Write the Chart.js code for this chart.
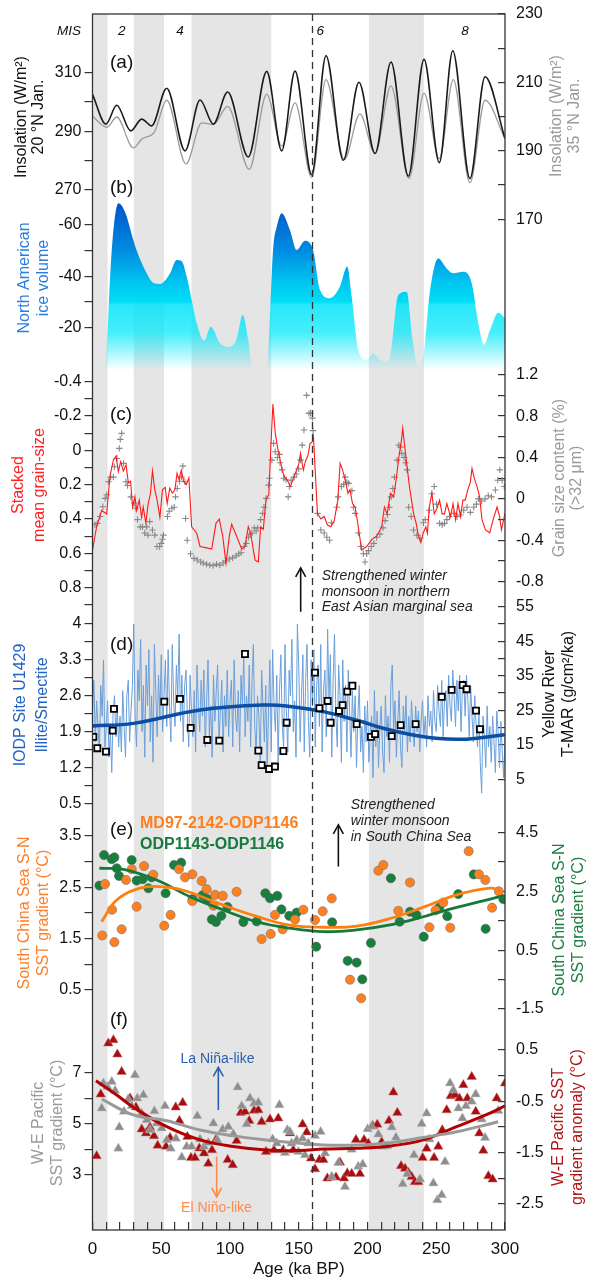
<!DOCTYPE html>
<html><head><meta charset="utf-8">
<script src="https://cdn.jsdelivr.net/npm/chart.js@4.4.1/dist/chart.umd.min.js"></script>
<style>html,body{margin:0;padding:0;background:#fff}canvas{display:block}</style>
</head><body>
<canvas id="c" width="591" height="1280"></canvas>
<script>
// ---------------- DATA (ages in ka BP) ----------------
const interglacials = [[0,11],[30,52],[72,130],[201,241]];
const dashedAge = 160;
const xTicks = [0,10,20,30,40,50,60,70,80,90,100,110,120,130,140,150,160,170,180,190,200,210,220,230,240,250,260,270,280,290,300];
const xMajor = [0,50,100,150,200,250,300];

// (a) insolation
const insol20N = [[0,302.5],[9.8,292.4],[17.6,298.8],[27.8,290.1],[35.8,294.1],[43,291.8],[54,304.6],[67.3,283.3],[78.2,300.6],[87.9,292.4],[98.3,303.3],[113.3,281.2],[126.7,310.3],[137.6,283.3],[147.3,310.4],[159.4,275.2],[169.8,315.6],[182.4,280.1],[193.8,306.6],[205.5,282.4],[217.1,313.5],[229.7,274.7],[241.1,314.4],[252.2,279.3],[262,317.3],[274.5,273.9],[285.5,308.5],[300,287.5]];
const insol35N = [[0,200.1],[10.5,196.9],[17.6,199.9],[29.7,190.9],[36,193.5],[45,195.5],[54,204.8],[68,186.2],[79.4,198.2],[87.9,197.7],[98.3,203.0],[114,184.6],[126.7,206.6],[137.6,191.4],[147.3,204.0],[159.4,182.2],[169.8,210.8],[183.2,187.5],[194.5,200.8],[205.5,189.2],[217.1,209.0],[230.2,181.9],[241.1,206.9],[252.2,187.7],[262.4,210.8],[274.5,180.7],[285.5,204.8],[300,193.5]];

// (b) North American ice volume
const iceBase = -3.5;
const iceVolume = [[9,-3.5],[10.3,-10],[12.7,-38.6],[15.2,-58],[18.8,-68.5],[23.6,-65.2],[29.7,-54.2],[32,-50.3],[39.4,-41.2],[44,-37.5],[49,-37],[51.5,-37.7],[56.4,-41.2],[61.2,-46.4],[64.9,-45.9],[68.5,-39.9],[72.1,-30.8],[75.8,-21.7],[81.1,-14.9],[86,-20.4],[92.7,-13.9],[98,-12.5],[102.4,-13.3],[105.3,-16.5],[109.2,-25],[113.3,-15.2],[116.5,-3.5],[126.7,-3.5],[131.5,-51.5],[134,-59.3],[137.6,-64.6],[143.6,-58],[148.5,-50.3],[154.5,-53.9],[158.2,-52.9],[160.6,-50],[165.5,-34.7],[172.7,-31.5],[180,-36],[185.3,-43.8],[188.5,-32.1],[193.3,-11.3],[199.4,-7.4],[204.2,-10],[209,-7.5],[214,-6.4],[216.8,-10],[222.4,-32.7],[228.5,-34],[232.8,-15.2],[237,-4.6],[240.6,-8.7],[245.5,-34.7],[251.5,-47],[257.6,-43.1],[262.4,-41.2],[269.7,-41.8],[275.8,-37.3],[280.6,-21.7],[284.7,-13.3],[289.1,-19.1],[295.1,-25.8],[300,-23.6]];

// (c) stacked mean grain-size (left, reversed) and grain size content >32 um (right)
const grainMean = [[0,0.58],[3,0.445],[6.7,0.35],[10.3,0.37],[12.7,0.15],[15.2,0.056],[17.1,0.033],[18.8,0.124],[20.5,0.066],[22.4,0.12],[24.4,0.085],[26.1,0.19],[27.7,0.18],[29.2,0.33],[30.9,0.27],[32.1,0.35],[34,0.29],[35.7,0.39],[36.9,0.33],[38.8,0.425],[40.5,0.31],[42.2,0.25],[43.6,0.12],[45.3,0.23],[47,0.29],[49,0.39],[50.9,0.23],[52.9,0.215],[54.3,0.31],[56.2,0.22],[58.2,0.25],[59.9,0.23],[61.5,0.134],[62.9,0.17],[64.6,0.116],[66.3,0.18],[68.2,0.2],[70.1,0.16],[72.1,0.445],[75.8,0.483],[78.2,0.56],[83.1,0.568],[86.7,0.575],[89.8,0.425],[92.2,0.4],[94.7,0.5],[97.1,0.658],[99.5,0.5],[101.2,0.43],[104.8,0.5],[108.5,0.575],[110.9,0.56],[113.3,0.445],[115,0.483],[118.2,0.639],[120.6,0.65],[122.3,0.445],[124.2,0.46],[126.3,0.28],[128.2,0.26],[129.7,-0.02],[131.2,-0.27],[132.9,-0.1],[134.5,-0.02],[136,0.04],[138,0.115],[139.6,0.153],[141.6,0.173],[144,0.21],[146.5,0.153],[148.4,0.115],[150.1,0.076],[151.3,0.018],[153.3,0.115],[155,0.06],[156.7,0.03],[158.2,-0.04],[159.9,-0.05],[160.7,-0.08],[161.7,0.076],[163.6,0.367],[166.1,0.4],[168.5,0.385],[170.9,0.435],[173.3,0.445],[175.8,0.41],[178.4,0.29],[180.1,0.076],[181.9,0.115],[183.8,0.173],[185.8,0.25],[187.3,0.23],[189.1,0.31],[191,0.33],[193.3,0.445],[195.7,0.58],[199.4,0.56],[203,0.52],[206.7,0.5],[210.3,0.445],[212.3,0.33],[214.3,0.37],[216.7,0.25],[219,0.27],[220.8,0.173],[222.7,0.046],[224.7,-0.06],[225.6,-0.128],[227.1,-0.02],[228.8,0.096],[230.5,0.21],[232,0.29],[233.5,0.367],[235.4,0.425],[237.1,0.5],[238.8,0.538],[240.5,0.483],[242.4,0.445],[243.6,0.483],[244.9,0.33],[246.8,0.25],[248.5,0.37],[250.4,0.34],[252.4,0.29],[254.3,0.37],[256,0.37],[257.7,0.31],[260.4,0.386],[262.2,0.31],[264.1,0.405],[265.8,0.31],[267.7,0.386],[269.4,0.29],[271.1,0.29],[272.9,0.23],[274.8,0.185],[276,0.105],[277.7,0.163],[279.6,0.21],[281.5,0.27],[283.3,0.405],[285.8,0.463],[288.9,0.48],[291.3,0.405],[294.2,0.33],[296.1,0.386],[297.4,0.463],[300,0.367]];
const coarseContent = [[1.8,-0.25],[3.5,-0.236],[5.5,-0.17],[7.5,-0.076],[9.2,0.005],[10.3,0.04],[11.5,0.166],[13.2,0.21],[15.2,0.21],[15.9,0.31],[17.8,0.39],[19.5,0.488],[20.2,0.575],[21.2,0.633],[22.6,0.343],[24.3,0.166],[25.5,0.13],[27.9,0.02],[30.3,-0.04],[31.5,-0.09],[32.7,-0.2],[34.7,-0.27],[36.4,-0.27],[38,-0.33],[39.4,-0.27],[40.4,-0.35],[41.6,-0.22],[43.6,-0.3],[45.3,-0.35],[46.9,-0.46],[48.8,-0.46],[50,-0.43],[50.9,-0.39],[51.6,-0.35],[54.5,-0.17],[55.7,-0.12],[57.7,-0.09],[59.4,-0.08],[60.4,0.02],[61.6,0.1],[63.3,0.17],[64.7,0.21],[65.7,0.317],[67.2,0.166],[67.7,-0.19],[68.9,-0.4],[71.3,-0.53],[73.8,-0.575],[76.2,-0.59],[78.7,-0.61],[80.5,-0.62],[82.9,-0.63],[85.3,-0.64],[87.7,-0.645],[90.2,-0.63],[92.6,-0.64],[95,-0.62],[96.7,-0.6],[99.5,-0.58],[101.9,-0.57],[104.4,-0.55],[106.4,-0.53],[108.1,-0.52],[110.3,-0.46],[111.8,-0.43],[113.5,-0.37],[114.7,-0.34],[116,-0.33],[117.7,-0.28],[119,-0.31],[120.2,-0.28],[122.3,-0.2],[123.8,-0.14],[124.7,-0.08],[126.3,0.005],[128,0.133],[128.7,0.2],[130.5,0.375],[131.7,0.536],[132.9,0.455],[134.5,0.4],[136,0.43],[136.4,0.35],[137.9,0.28],[139.1,0.2],[140.8,0.185],[142.3,0.02],[143.2,0.12],[144.4,0.18],[146.7,0.21],[148.2,0.24],[149.9,0.29],[151.3,0.375],[152.5,0.52],[153.8,0.665],[155.7,1.0],[157.4,0.826],[158.6,0.83],[159.9,0.78],[160.4,0.66],[163.6,-0.14],[166.1,-0.3],[168.5,-0.33],[170.4,-0.37],[172.4,-0.4],[173.8,-0.23],[177.7,-0.08],[178.7,0.02],[181,0.12],[182.6,0.14],[183.8,0.21],[185,0.16],[186.3,0.15],[188.7,0.08],[189.8,-0.08],[191,-0.14],[193.3,-0.33],[195.2,-0.46],[197,-0.53],[198.2,-0.61],[199.4,-0.53],[200.7,-0.5],[202.7,-0.46],[204.6,-0.43],[206.7,-0.37],[209.1,-0.34],[211.3,-0.28],[212.8,-0.21],[214.5,-0.15],[216,-0.08],[217.2,0.02],[218.4,0.1],[219.6,0.21],[221.6,0.375],[222.8,0.52],[224,0.5],[224.9,0.44],[226.6,0.4],[227.6,0.35],[228.8,0.28],[229.9,-0.08],[231.8,-0.17],[233.5,-0.3],[235.9,-0.35],[238.3,-0.38],[240.7,-0.23],[242,-0.2],[244.9,-0.11],[246.8,0.05],[248.5,0.12],[250.2,-0.05],[252.4,-0.236],[254.3,-0.25],[256,-0.236],[257.7,-0.2],[259.6,-0.17],[262.8,-0.14],[265.2,-0.17],[267.6,-0.155],[270,-0.11],[272.4,-0.08],[274.8,-0.13],[277.3,-0.08],[279.2,-0.05],[280.6,0.0],[283,-0.02],[285.5,0.0],[287.8,0.03],[290.2,0.02],[293,0.086],[294.7,0.18],[296.2,0.28],[297.9,0.18],[299.5,0.12]];

// (d) IODP U1429 illite/smectite, 1-ka sampling from 0 ka
const illiteStep = 1;
const illiteRatio = [
2.3,2.9,1.7,2.5,2.0,1.5,2.8,2.2,3.3,1.6,
2.0,2.5,1.4,1.9,1.1,2.3,2.6,1.8,2.4,1.6,
2.2,1.5,2.7,2.0,1.4,2.6,2.9,1.7,2.3,2.8,
4.0,2.2,1.6,3.1,2.5,3.7,1.9,2.8,1.4,3.2,
2.4,3.5,1.7,2.6,1.3,3.6,2.7,1.8,3.0,2.2,
3.4,1.9,2.6,3.3,2.0,3.5,2.4,1.7,3.6,2.5,
2.0,3.2,2.6,3.8,2.1,3.0,1.7,2.8,3.1,2.2,
1.6,3.0,2.3,1.8,2.7,1.5,3.2,2.4,1.9,2.9,
2.2,3.1,1.6,2.5,3.3,1.8,2.4,1.4,3.0,2.1,
2.7,3.2,1.7,2.3,2.9,1.5,2.6,2.0,3.1,1.8,
2.5,2.9,1.6,3.3,2.2,1.9,2.7,1.5,3.0,2.4,
3.4,1.8,2.6,2.1,3.2,1.6,2.9,3.6,2.0,1.5,
2.6,2.2,1.3,3.1,2.4,1.7,2.8,1.2,2.3,3.3,
1.5,3.5,2.4,1.9,3.0,1.3,2.7,3.4,2.0,1.6,
3.6,2.3,1.5,3.1,2.6,3.7,1.9,2.5,1.4,4.0,
3.2,1.7,2.6,3.4,1.5,2.9,3.6,2.1,1.4,3.3,
2.4,3.5,1.6,2.8,3.2,2.0,3.6,1.5,2.7,3.1,
1.8,3.9,2.5,3.4,1.4,2.9,3.8,2.2,1.6,3.2,
2.6,1.3,3.3,2.1,2.8,1.5,3.1,2.3,1.4,2.7,
1.9,2.6,1.2,2.2,2.8,1.5,2.0,1.1,2.4,1.7,
2.5,1.3,1.9,2.2,1.0,2.7,1.6,2.3,1.2,2.0,
2.4,1.5,1.1,2.6,1.8,2.2,1.3,2.8,3.2,1.9,
2.5,1.4,2.1,2.7,1.6,1.2,2.4,1.9,2.6,1.5,
2.2,1.7,2.5,2.0,1.6,2.4,1.9,2.3,1.5,2.1,
2.5,1.8,2.2,1.6,2.6,2.0,2.3,1.7,2.7,2.1,
1.9,2.8,2.3,2.0,2.9,1.8,2.5,2.7,2.0,3.0,
2.4,2.1,3.1,2.6,2.0,2.9,2.3,3.0,1.9,2.7,
2.9,2.2,3.0,2.5,1.8,2.8,2.2,1.7,2.6,2.0,
1.6,2.3,1.3,0.7,2.2,1.8,1.2,2.4,1.6,2.0,
1.3,2.2,1.7,1.1,2.3,1.9,1.2,2.1,1.5,1.0,1.8];
const illiteTrend = [[0,2.01],[29.8,2.06],[78.2,2.32],[126.7,2.42],[143.6,2.39],[167.9,2.29],[192.1,2.12],[216.4,1.93],[240.6,1.8],[264.8,1.75],[279.3,1.77],[300,1.84]];
const yellowRiverTMAR = [[0.6,17.3],[3.5,14],[9.8,13],[14.7,19.1],[15.6,25.4],[52.2,27.5],[63.6,28.3],[71.4,19.9],[83.5,16.4],[92.2,16.2],[110.9,41.3],[120.6,13.3],[123,9.1],[128.4,8],[132.7,8.7],[138.8,13.2],[141.2,21.4],[161.8,35.9],[165,25.6],[171,27.7],[173.2,21.4],[179.3,24.8],[181.9,26.5],[185.3,30.4],[189,32.1],[192.1,21],[202.5,17.3],[205.5,18.1],[217.6,17.5],[224.1,20.7],[235,21],[254,28.9],[261.2,30.9],[269.2,32.3],[272.1,31.1],[278.9,24.9],[281.8,19.5]];

// (e) South China Sea S-N SST gradient
const scsMD97 = [[7.1,1.56],[9.1,2.56],[14.2,2.06],[15.9,1.43],[21.2,1.68],[24.4,2.64],[28.5,2.85],[32.1,2.12],[37.5,2.91],[44.2,2.74],[52.2,1.75],[56.8,1.96],[62.9,2.85],[67.3,2.69],[72.6,2.75],[72.6,2.23],[79.4,2.62],[83,2.46],[87.9,2.14],[89.1,2.35],[94.7,2.33],[104.8,2.41],[123,1.49],[129.6,1.59],[132.7,1.96],[138.3,1.68],[147.3,1.87],[153.3,2.06],[161.8,1.86],[167.4,2.03],[174,2.28],[187.3,0.70],[195.4,0.34],[207.9,2.82],[211.5,2.93],[222.4,2.04],[230.9,2.59],[245,1.72],[249.5,2.05],[255.1,2.2],[260.2,1.71],[273.6,3.2],[281,2.75],[285.7,2.64],[290.6,2.1],[295.5,2.42]];
const scsMD97Fit = [[6.7,1.83],[17.6,2.25],[34.5,2.48],[49.1,2.51],[66,2.44],[95.1,2.15],[119.4,1.93],[143.6,1.76],[167.9,1.72],[192.1,1.74],[216.4,1.89],[240.6,2.11],[264.8,2.35],[289.1,2.48],[296.4,2.44]];
const scsODP1143 = [[5,2.70],[8.4,3.74],[14,3.6],[15.9,3.66],[17.6,3.29],[19.3,3.03],[28.5,3.57],[32.1,2.87],[36.5,2.92],[40.6,2.61],[43,2.98],[53.2,2.44],[59.3,3.4],[64.5,3.48],[72.8,2.24],[80,2.37],[83.5,2.24],[86.8,1.55],[89.8,1.46],[93.7,1.67],[98.2,1.97],[109.7,1.46],[119.4,1.48],[125.7,2.44],[129.1,2.27],[134.4,2.35],[137.4,1.89],[143.1,1.67],[148.5,1.78],[162.7,0.62],[174.3,1.45],[185.6,0.14],[192.1,0.08],[196.2,-0.49],[202.5,0.75],[217,2.95],[223.4,1.47],[230.9,1.81],[235.6,1.7],[240.9,0.96],[252.2,1.95],[258,1.66],[266,2.41],[277.3,3.08],[285.9,1.23],[298.8,2.24]];
const scsODP1143Fit = [[5,3.29],[22.4,3.25],[46.7,2.89],[70.9,2.32],[95.1,1.87],[119.4,1.47],[143.6,1.25],[167.9,1.13],[192.1,1.19],[216.4,1.36],[240.6,1.64],[264.8,1.96],[298.8,2.35]];

// (f) W-E Pacific SST gradient (left) and anomaly (right)
const wepGradient = [[6.7,5.61],[7.9,6.59],[10.8,6.45],[14,6.65],[16.4,6.3],[18.8,4.04],[19.5,4.87],[22.9,5.48],[26,5.96],[28.5,5.7],[30.9,6.91],[32.6,6.0],[35.8,5.41],[37,6.13],[39.4,5.15],[41.8,4.76],[45,5.5],[46.7,5.02],[50.3,4.83],[52.7,5.7],[54,4.37],[56.9,4.04],[60.7,4.43],[64.9,3.69],[68.5,4.11],[72.1,4.11],[76.2,5.31],[78.2,4.4],[81.1,4.11],[84.2,4.26],[87.9,5.02],[90.8,4.37],[94.7,4.79],[98.8,4.89],[102.4,4.6],[105.6,6.43],[108.5,5.7],[112.1,4.99],[114.5,6.0],[117.5,5.8],[120.6,5.83],[131,4.4],[134,4.24],[135.9,5.74],[140,3.87],[141.7,4.76],[143.6,4.69],[144.8,4.24],[148.5,4.37],[149.7,3.91],[152.8,4.43],[154.5,3.78],[157,4.24],[161.8,4.53],[165.9,4.69],[169.1,3.85],[174,2.93],[178.8,3.48],[183.6,2.54],[188.5,4.0],[193.3,3.33],[196.5,3.42],[200.1,4.8],[203,4.9],[207.9,4.59],[211.5,4.11],[214.4,4.13],[217.6,4.87],[220.7,4.47],[225.6,2.65],[229,3.04],[233.8,3.78],[238.2,2.83],[239.4,5.0],[243,5.41],[245,4.4],[247.9,2.68],[250.8,2.02],[254,2.22],[256.4,3.52],[260,6.59],[262.4,6.32],[266.1,5.61],[269,5.22],[271.6,5.7],[275.8,5.87],[278.7,6.16],[283,5.18],[285.5,4.46],[295.1,5.51]];
const wepGradientFit = [[6.7,5.97],[29.7,5.35],[54,5.12],[78.2,4.76],[102.4,4.53],[126.7,4.37],[150.9,4.24],[167.9,4.17],[192.1,4.17],[216.4,4.26],[240.6,4.47],[264.8,4.69],[295.1,5.08]];
const wepAnomaly = [[3,-1.565],[6,-0.363],[11.5,0.63],[15.2,0.695],[18.1,0.416],[21.2,0.077],[27.3,-0.44],[31.6,-0.616],[35.8,-1.045],[38.9,-1.12],[41.8,-1.006],[44.7,-1.175],[47.4,-1.36],[53.5,-1.38],[56.4,-1.21],[60.5,-0.616],[63.2,-0.877],[65.6,-0.527],[69,-1.19],[71.6,-1.6],[74.5,-1.6],[77.7,-1.415],[81.1,-1.51],[84.2,-1.71],[86.9,-1.45],[89.8,-1.25],[98.3,-1.64],[102,-1.74],[104.8,-1.27],[107.8,-0.72],[110.9,-0.70],[114,-0.877],[117.5,-0.68],[120.6,-0.67],[123,-0.9],[126.2,-1.48],[129.1,-0.85],[132,-1.45],[135.1,-0.83],[138.8,-1.45],[143.6,-1.12],[146,-1.45],[152.8,-0.948],[155.8,-1.10],[158.9,-1.61],[161.8,-1.82],[165,-1.64],[167.9,-1.64],[170.8,-2.0],[174,-1.98],[177.1,-1.98],[180,-1.69],[182.9,-2.0],[185.3,-1.9],[188.5,-1.91],[191.6,-1.25],[194.5,-1.91],[197.5,-1.25],[200.6,-1.32],[203.8,-0.98],[207.1,-0.95],[210.3,-1.29],[215.6,-0.877],[218.8,-0.325],[221.7,-0.72],[224.4,-1.76],[227.3,-1.81],[229.7,-1.89],[232.1,-1.97],[234.5,-2.07],[237,-2.07],[240.1,-1.6],[243,-1.42],[248.4,-1.6],[251.5,-1.38],[254.4,-1.06],[257.6,-0.67],[260.5,-0.396],[263.6,-0.37],[266.8,-0.44],[269.7,-0.18],[272.6,-0.44],[275.8,-0.02],[278.7,-0.70],[281.3,-1.12],[284.2,-1.46],[287.9,-1.955],[291,-2.02],[294,-0.44],[300,-0.15]];
const wepAnomalyFit = [[2.5,-0.1],[17.6,-0.377],[29.7,-0.616],[54,-0.994],[78.2,-1.25],[102.4,-1.38],[126.7,-1.45],[150.9,-1.46],[167.9,-1.43],[192.1,-1.415],[216.4,-1.37],[240.6,-1.25],[264.8,-0.994],[289.1,-0.73],[300,-0.59]];

// ---------------- AXES (value/pixel calibration, tick lists) ----------------
const FONT = '"Liberation Sans", Arial, Helvetica, sans-serif';
const AREA_TOP = 14, AREA_BOTTOM = 1230;
const axisDefs = {
  yAL: {pos:'left',  cal:[310,72.3,270,190],   ticks:[270,280,290,300,310], major:[270,290,310]},
  yAR: {pos:'right', cal:[230,14,170,219.3],   ticks:[170,180,190,200,210,220,230], major:[170,190,210,230]},
  yBL: {pos:'left',  cal:[-60,225,-20,327.7],  ticks:[-60,-50,-40,-30,-20], major:[-60,-40,-20]},
  yCL: {pos:'left',  cal:[-0.4,381.7,0.8,587.7], ticks:[-0.4,-0.3,-0.2,-0.1,0,0.1,0.2,0.3,0.4,0.5,0.6,0.7,0.8,0.9], major:[-0.4,-0.2,0,0.2,0.4,0.6,0.8]},
  yCR: {pos:'right', cal:[1.2,374.7,-0.8,581.7], ticks:[-0.8,-0.6,-0.4,-0.2,0,0.2,0.4,0.6,0.8,1.0,1.2], major:[-0.8,-0.4,0,0.4,0.8,1.2]},
  yDL: {pos:'left',  cal:[4,624,0.5,803.3],    ticks:[0.5,0.85,1.2,1.55,1.9,2.25,2.6,2.95,3.3,3.65,4], major:[0.5,1.2,1.9,2.6,3.3,4]},
  yDR: {pos:'right', cal:[55,606.7,5,779.3],   ticks:[5,10,15,20,25,30,35,40,45,50,55], major:[5,15,25,35,45,55]},
  yEL: {pos:'left',  cal:[3.5,835.7,0.5,990],  ticks:[0.5,1,1.5,2,2.5,3,3.5], major:[0.5,1.5,2.5,3.5]},
  yER: {pos:'right', cal:[4.5,832.7,-1.5,1009], ticks:[-1.5,-0.5,0.5,1.5,2.5,3.5,4.5], major:[-1.5,0.5,2.5,4.5]},
  yFL: {pos:'left',  cal:[7,1072.7,3,1175],    ticks:[3,4,5,6,7], major:[3,5,7]},
  yFR: {pos:'right', cal:[0.5,1050,-2.5,1204], ticks:[-2.5,-2,-1.5,-1,-0.5,0,0.5], major:[-2.5,-1.5,-0.5,0.5]}
};
function scaleRange(v1, p1, v2, p2) {
  const upp = (v2 - v1) / (p2 - p1);
  const vTop = v1 + (AREA_TOP - p1) * upp;
  const vBot = v1 + (AREA_BOTTOM - p1) * upp;
  return vTop > vBot ? {min: vBot, max: vTop, reverse: false} : {min: vTop, max: vBot, reverse: true};
}
function zeroPadding(s) { s.paddingTop = 0; s.paddingBottom = 0; s.paddingLeft = 0; s.paddingRight = 0; }
function yAxis(def) {
  const r = scaleRange(...def.cal);
  const left = def.pos === 'left';
  return {
    type: 'linear', position: def.pos, min: r.min, max: r.max, reverse: r.reverse, bounds: 'data',
    afterBuildTicks: s => { s.ticks = def.ticks.map(v => ({value: v})); },
    afterFit: s => { s.width = 0; zeroPadding(s); },
    ticks: {autoSkip: false, padding: left ? 3 : 18, color: '#111', font: {size: 16, family: FONT},
      callback: v => def.major.includes(v) ? String(v) : ''},
    grid: {display: true, drawOnChartArea: false, drawTicks: true, tickLength: left ? 8 : -7, color: '#333', lineWidth: 1.2},
    border: {display: false},
    title: {display: false}
  };
}
const scales = {
  x: {type: 'linear', position: 'bottom', min: 0, max: 300,
    afterBuildTicks: s => { s.ticks = xTicks.map(v => ({value: v})); },
    afterFit: s => { s.height = 50; zeroPadding(s); },
    ticks: {autoSkip: false, maxRotation: 0, padding: 17, color: '#111', font: {size: 17, family: FONT},
      callback: v => xMajor.includes(v) ? String(v) : ''},
    grid: {display: true, drawOnChartArea: false, drawTicks: true, tickLength: -8, color: '#333', lineWidth: 1.2},
    border: {display: false},
    title: {display: true, text: 'Age (ka BP)', color: '#111', font: {size: 17, family: FONT}, padding: {top: 0, bottom: 0}}
  }
};
Object.keys(axisDefs).forEach(k => { scales[k] = yAxis(axisDefs[k]); });

// ---------------- STYLE HELPERS ----------------
const iceFillStops = [[-70,'rgba(0,80,200,1)'],[-50,'rgba(0,140,225,1)'],[-38,'rgba(0,195,240,1)'],[-30,'rgba(0,222,246,1)'],[-29,'rgba(0,228,248,0.85)'],[-18,'rgba(0,232,250,0.72)'],[-3.5,'rgba(0,232,250,0)']];
function iceFill(context) {
  const chart = context.chart;
  const s = chart.scales && chart.scales.yBL;
  if (!s || !chart.chartArea) return 'rgba(0,200,240,0.7)';
  const p0 = s.getPixelForValue(iceFillStops[0][0]);
  const p1 = s.getPixelForValue(iceFillStops[iceFillStops.length - 1][0]);
  const g = chart.ctx.createLinearGradient(0, p0, 0, p1);
  iceFillStops.forEach(([v, c]) => g.addColorStop(Math.min(1, Math.max(0, (s.getPixelForValue(v) - p0) / (p1 - p0))), c));
  return g;
}
const pts = arr => arr.map(([x, y]) => ({x, y}));
const line = (data, axis, color, width, extra) => Object.assign({data: pts(data), yAxisID: axis, borderColor: color, borderWidth: width, pointRadius: 0, fill: false}, extra || {});
const dots = (data, axis, style, r, bg, bc, bw, extra) => Object.assign({data: pts(data), yAxisID: axis, showLine: false, pointStyle: style, pointRadius: r, backgroundColor: bg, borderColor: bc, borderWidth: bw}, extra || {});

const datasets = [
  line(insol35N, 'yAR', '#9b9b9b', 1.3, {cubicInterpolationMode: 'monotone', order: 4}),
  line(insol20N, 'yAL', '#1a1a1a', 1.6, {cubicInterpolationMode: 'monotone', order: 3}),
  line(iceVolume, 'yBL', 'rgba(0,0,0,0)', 0, {fill: {value: iceBase}, backgroundColor: iceFill, cubicInterpolationMode: 'monotone', order: 10}),
  dots(coarseContent, 'yCR', 'cross', 3.2, '#888', '#888', 1.1, {order: 6}),
  line(grainMean, 'yCL', '#ff1a1a', 1.1, {order: 5}),
  line(illiteRatio.map((v, i) => [i * illiteStep, v]), 'yDL', '#6a9fdb', 1, {order: 8}),
  line(illiteTrend, 'yDL', '#0b4ea2', 3.5, {tension: 0.4, order: 7}),
  dots(yellowRiverTMAR, 'yDR', 'rect', 4.3, '#fff', '#000', 1.8, {order: 1}),
  dots(scsMD97, 'yEL', 'circle', 4.6, '#ff8020', 'rgba(110,110,110,0.7)', 0.8, {order: 4}),
  dots(scsODP1143, 'yER', 'circle', 4.6, '#17803f', 'rgba(90,90,90,0.7)', 0.8, {order: 4}),
  line(scsMD97Fit, 'yEL', '#ff7f0e', 2.8, {tension: 0.4, order: 2}),
  line(scsODP1143Fit, 'yER', '#137a3a', 2.8, {tension: 0.4, order: 2}),
  dots(wepGradient, 'yFL', 'triangle', 5.5, '#8e8e8e', 'rgba(200,200,200,0.8)', 0.6, {order: 4}),
  dots(wepAnomaly, 'yFR', 'triangle', 5.5, '#a80d10', 'rgba(200,120,120,0.8)', 0.6, {order: 4}),
  line(wepGradientFit, 'yFL', '#9a9a9a', 3, {tension: 0.4, order: 2}),
  line(wepAnomalyFit, 'yFR', '#b30000', 3, {tension: 0.4, order: 2})
];

// ---------------- ANNOTATIONS ----------------
const arrows = [
  {axis: 'yCL', age: 151.4, from: 0.94, to: 0.685, color: '#111'},
  {axis: 'yEL', age: 178.8, from: 2.9, to: 3.71, color: '#111'},
  {axis: 'yFL', age: 91.5, from: 5.54, to: 7.21, color: '#2a5fb0'},
  {axis: 'yFL', age: 90.3, from: 3.72, to: 2.15, color: '#ff8a4a'}
];
const axisTitles = [
  {lines: ['Insolation (W/m²)', '20 °N Jan.'], xs: [21.7, 38.3], y: 117, c: '#111'},
  {lines: ['Insolation (W/m²)', '35 °N Jan.'], xs: [556.7, 575], y: 116, c: '#9a9a9a'},
  {lines: ['North American', 'ice volume'], xs: [25, 43.3], y: 278, c: '#2b7de0'},
  {lines: ['Stacked', 'mean grain-size'], xs: [18.3, 39.3], y: 485, c: '#ff2222'},
  {lines: ['Grain size content (%)', '(>32 μm)'], xs: [560, 576.7], y: 478, c: '#9a9a9a'},
  {lines: ['IODP Site U1429', 'Illite/Smectite'], xs: [21, 43], y: 705, c: '#2263c2'},
  {lines: ['Yellow River', 'T-MAR (g/cm²/ka)'], xs: [550, 568.3], y: 694, c: '#111'},
  {lines: ['South China Sea S-N', 'SST gradient (°C)'], xs: [25, 44], y: 913, c: '#ff7f27'},
  {lines: ['South China Sea S-N', 'SST gradient (°C)'], xs: [559.3, 578.3], y: 920, c: '#1b7d40'},
  {lines: ['W-E Pacific', 'SST gradient (°C)'], xs: [39, 58], y: 1123, c: '#9a9a9a'},
  {lines: ['W-E Pacific SST', 'gradient anomaly (°C)'], xs: [559, 578], y: 1127, c: '#b01515'}
];
const labels = [
  {t: 'MIS', x: 69, y: 31, f: 'italic 13.5px', c: '#111', a: 'center'},
  {t: '2', x: 121.7, y: 31, f: 'italic 13.5px', c: '#111', a: 'center'},
  {t: '4', x: 180, y: 31, f: 'italic 13.5px', c: '#111', a: 'center'},
  {t: '6', x: 320.3, y: 31, f: 'italic 13.5px', c: '#111', a: 'center'},
  {t: '8', x: 465, y: 31, f: 'italic 13.5px', c: '#111', a: 'center'},
  {t: '(a)', x: 110, y: 63, f: '19px', c: '#111', a: 'left'},
  {t: '(b)', x: 110, y: 188, f: '19px', c: '#111', a: 'left'},
  {t: '(c)', x: 110, y: 415, f: '19px', c: '#111', a: 'left'},
  {t: '(d)', x: 110, y: 645, f: '19px', c: '#111', a: 'left'},
  {t: '(e)', x: 110, y: 830, f: '19px', c: '#111', a: 'left'},
  {t: '(f)', x: 110, y: 1020, f: '19px', c: '#111', a: 'left'},
  {t: 'Strengthened winter', x: 321.7, y: 575.7, f: 'italic 14px', c: '#222', a: 'left'},
  {t: 'monsoon in northern', x: 321.7, y: 591.7, f: 'italic 14px', c: '#222', a: 'left'},
  {t: 'East Asian marginal sea', x: 321.7, y: 607.3, f: 'italic 14px', c: '#222', a: 'left'},
  {t: 'Strengthened', x: 350.7, y: 805, f: 'italic 14px', c: '#222', a: 'left'},
  {t: 'winter monsoon', x: 350.7, y: 821, f: 'italic 14px', c: '#222', a: 'left'},
  {t: 'in South China Sea', x: 350.7, y: 837.3, f: 'italic 14px', c: '#222', a: 'left'},
  {t: 'MD97-2142-ODP1146', x: 140, y: 823.3, f: 'bold 16px', c: '#ff7f1e', a: 'left'},
  {t: 'ODP1143-ODP1146', x: 140, y: 845, f: 'bold 16px', c: '#177a3c', a: 'left'},
  {t: 'La Niña-like', x: 217.5, y: 1059.3, f: '14px', c: '#2a5fb0', a: 'center'},
  {t: 'El Niño-like', x: 216.5, y: 1207.7, f: '14px', c: '#ff8a4a', a: 'center'}
];

const decor = {
  id: 'decor',
  afterLayout(chart) {
    // zero-width y axes are stacked on the frame; widen their clip boxes so tick labels show
    Object.values(chart.scales).forEach(s => {
      if (s.axis !== 'y') return;
      if (s.options.position === 'left') { s.left = 0; s.width = s.right; }
      else { s.right = chart.width; s.width = s.right - s.left; }
    });
  },
  beforeDraw(chart) {
    const {ctx, chartArea: a} = chart; const x = chart.scales.x;
    ctx.save(); ctx.fillStyle = '#e5e5e5';
    interglacials.forEach(([s, e]) => {
      const x0 = x.getPixelForValue(s), x1 = x.getPixelForValue(e);
      ctx.fillRect(x0, a.top, x1 - x0, a.bottom - a.top);
    });
    ctx.restore();
  },
  afterDatasetsDraw(chart) {
    const {ctx, chartArea: a} = chart; const x = chart.scales.x;
    ctx.save();
    const xd = x.getPixelForValue(dashedAge);
    ctx.strokeStyle = '#333'; ctx.lineWidth = 1.3; ctx.setLineDash([7, 5]);
    ctx.beginPath(); ctx.moveTo(xd, a.top); ctx.lineTo(xd, a.bottom); ctx.stroke();
    ctx.setLineDash([]);
    ctx.strokeStyle = '#333'; ctx.lineWidth = 1.3;
    ctx.strokeRect(a.left, a.top, a.right - a.left, a.bottom - a.top);
    arrows.forEach(ar => {
      const s = chart.scales[ar.axis];
      const px = x.getPixelForValue(ar.age), y0 = s.getPixelForValue(ar.from), y1 = s.getPixelForValue(ar.to);
      const dir = y1 < y0 ? 1 : -1;
      ctx.strokeStyle = ar.color; ctx.lineWidth = 1.6;
      ctx.beginPath(); ctx.moveTo(px, y0); ctx.lineTo(px, y1); ctx.stroke();
      ctx.beginPath(); ctx.moveTo(px - 5, y1 + dir * 9); ctx.lineTo(px, y1); ctx.lineTo(px + 5, y1 + dir * 9); ctx.stroke();
    });
    ctx.restore();
  },
  afterDraw(chart) {
    const ctx = chart.ctx;
    ctx.save();
    ctx.textBaseline = 'middle';
    axisTitles.forEach(t => {
      t.lines.forEach((ln, i) => {
        ctx.save();
        ctx.translate(t.xs[i], t.y); ctx.rotate(-Math.PI / 2);
        ctx.fillStyle = t.c; ctx.font = '16px ' + FONT; ctx.textAlign = 'center';
        ctx.fillText(ln, 0, 0);
        ctx.restore();
      });
    });
    labels.forEach(l => {
      ctx.fillStyle = l.c; ctx.font = l.f + ' ' + FONT; ctx.textAlign = l.a;
      ctx.fillText(l.t, l.x, l.y);
    });
    ctx.restore();
  }
};

new Chart(document.getElementById('c'), {
  type: 'line',
  data: {datasets},
  options: {
    responsive: false, animation: false, devicePixelRatio: 1,
    layout: {padding: {left: 92.5, right: 86, top: 14, bottom: 0}},
    plugins: {legend: {display: false}, tooltip: {enabled: false}},
    scales
  },
  plugins: [decor]
});
</script>
</body></html>
